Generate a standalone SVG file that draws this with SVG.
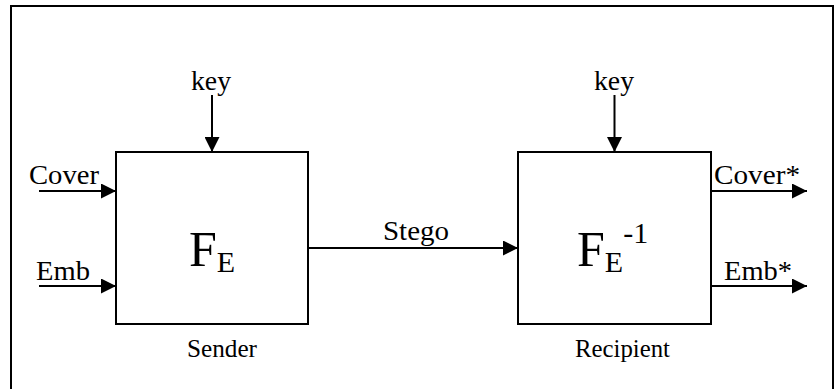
<svg xmlns="http://www.w3.org/2000/svg" width="835" height="389" viewBox="0 0 835 389">
<style>
text{font-family:"Liberation Serif","Times New Roman",serif;fill:#000}
.lbl{font-size:27px}
.cap{font-size:25px}
.big{font-size:50px}
.sub{font-size:30px}
.box{fill:#fff;stroke:#000;stroke-width:2}
.edge{fill:none;stroke:#000;stroke-width:2;marker-end:url(#ah)}
</style>
<defs>
<marker id="ah" markerUnits="userSpaceOnUse" markerWidth="15" markerHeight="15" refX="15" refY="7.5" orient="auto">
<path d="M0,0 L15,7.5 L0,15 z" fill="#000"/>
</marker>
</defs>
<rect x="11" y="6" width="822" height="400" fill="#fff" stroke="#000" stroke-width="2"/>
<g id="connectors">
<line class="edge" x1="39" y1="191" x2="116" y2="191"/>
<line class="edge" x1="39" y1="286" x2="116" y2="286"/>
<line class="edge" x1="212" y1="95" x2="212" y2="152"/>
<line class="edge" x1="614.5" y1="95" x2="614.5" y2="152"/>
<line class="edge" x1="308" y1="248" x2="518" y2="248"/>
<line class="edge" x1="711" y1="191" x2="807" y2="191"/>
<line class="edge" x1="711" y1="286" x2="807" y2="286"/>
<text class="lbl" x="29" y="184" textLength="70" lengthAdjust="spacingAndGlyphs">Cover</text>
<text class="lbl" x="36" y="280" textLength="54" lengthAdjust="spacingAndGlyphs">Emb</text>
<text class="lbl" x="191" y="90" textLength="40" lengthAdjust="spacingAndGlyphs">key</text>
<text class="lbl" x="594" y="90" textLength="40" lengthAdjust="spacingAndGlyphs">key</text>
<text class="lbl" x="383" y="240" textLength="66" lengthAdjust="spacingAndGlyphs">Stego</text>
<text class="lbl" x="714" y="184" textLength="86" lengthAdjust="spacingAndGlyphs">Cover*</text>
<text class="lbl" x="724" y="280" textLength="68" lengthAdjust="spacingAndGlyphs">Emb*</text>
</g>
<g id="sender">
<rect class="box" x="116" y="152" width="192" height="172"/>
<text x="189" y="266"><tspan class="big">F</tspan><tspan class="sub" y="272">E</tspan></text>
<text class="cap" x="187" y="357" textLength="70" lengthAdjust="spacingAndGlyphs">Sender</text>
</g>
<g id="recipient">
<rect class="box" x="518" y="152" width="193" height="172"/>
<text x="577" y="266"><tspan class="big">F</tspan><tspan class="sub" y="272">E</tspan><tspan class="sub" y="243">-1</tspan></text>
<text class="cap" x="575" y="357" textLength="95" lengthAdjust="spacingAndGlyphs">Recipient</text>
</g>
</svg>
